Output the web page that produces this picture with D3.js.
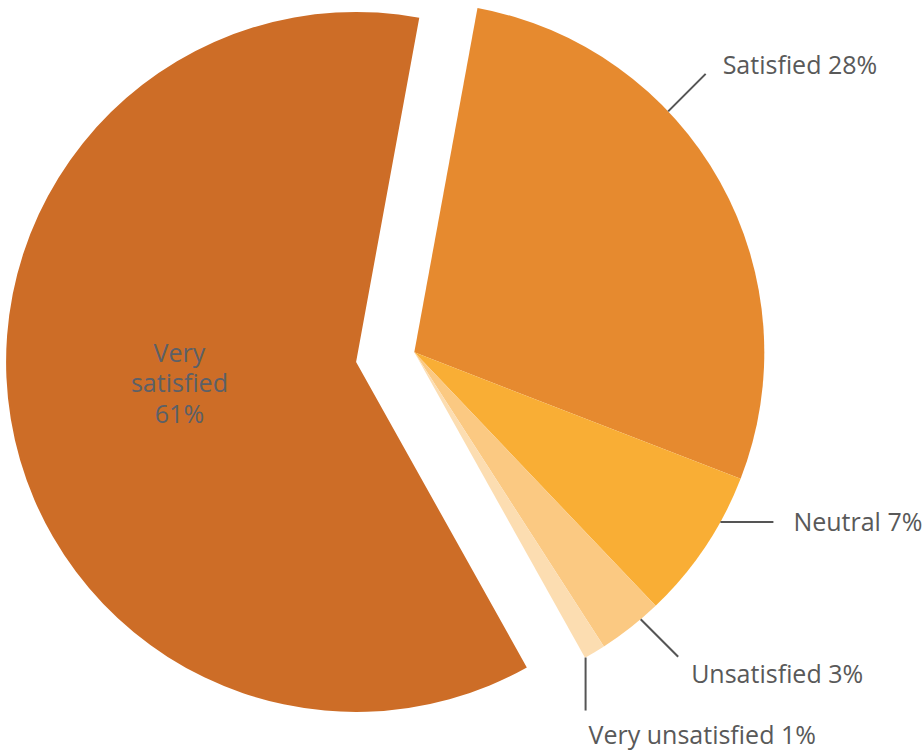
<!DOCTYPE html>
<html>
<head>
<meta charset="utf-8">
<script src="https://cdn.jsdelivr.net/npm/d3@7"></script>
<style>
  html, body { margin: 0; padding: 0; background: #ffffff; }
  svg { display: block; }
  text { font-family: "Open Sans", "Noto Sans", sans-serif; }
</style>
</head>
<body>
<svg id="chart" width="924" height="753"></svg>
<script>
// Survey answers and their shares (percent)
const categories = ["Very satisfied", "Satisfied", "Neutral", "Unsatisfied", "Very unsatisfied"];
const shares = [61, 28, 7, 3, 1];
const palette = ["#cd6d27", "#e68a2f", "#f9ae35", "#fbc982", "#fcddb1"];

// Layout
const width = 924, height = 753;
const cx = 414.3, cy = 352.3, radius = 350;
const explode = 59;                         // the leading slice is pulled out
const deg = Math.PI / 180;
const firstBoundary = 10.4 * deg;           // where "Satisfied" begins
const total = d3.sum(shares);
const start = firstBoundary - (shares[0] / total) * 2 * Math.PI;

// Outside-label layout: nudge of the anchor along the rim, connector direction, text offset
const labelNudgeDeg = [0, -14.3, -4.8, -2.1, 1.7];
const connectorDirDeg = [0, -45, 0, 45, 90];
const connectorLen = 53;
const textOffset = [[0, 0], [17, -9], [20, 0], [13, 18], [3, 25]];
const fontSize = 25;

const svg = d3.select("#chart");

const pie = d3.pie().sort(null).value(d => d)
  .startAngle(start).endAngle(start + 2 * Math.PI);
const arcs = pie(shares);

const arc = d3.arc().innerRadius(0).outerRadius(radius);

const g = svg.append("g").attr("transform", `translate(${cx},${cy})`);

const mid = d => (d.startAngle + d.endAngle) / 2;

g.selectAll("path.slice")
  .data(arcs)
  .join("path")
  .attr("class", "slice")
  .attr("d", arc)
  .attr("fill", (d, i) => palette[i])
  .attr("transform", (d, i) => {
    if (i !== 0) return null;
    const a = mid(d);
    return `translate(${explode * Math.sin(a)},${-explode * Math.cos(a)})`;
  });

// Label inside the exploded slice
const a0 = mid(arcs[0]);
const inX = explode * Math.sin(a0) + radius * 0.5 * Math.sin(a0) - 4;
const inY = -explode * Math.cos(a0) - radius * 0.5 * Math.cos(a0) - 7;
const inside = g.append("text")
  .attr("text-anchor", "middle")
  .attr("font-size", fontSize)
  .attr("fill", "#5b6067");
const insideLines = ["Very", "satisfied", shares[0] + "%"];
insideLines.forEach((t, k) => {
  inside.append("tspan")
    .attr("x", inX)
    .attr("y", inY + (k - 1) * 30.5)
    .attr("dy", "0.35em")
    .text(t);
});

// Outside labels with straight connectors
arcs.forEach((d, i) => {
  if (i === 0) return;
  const a = mid(d) + labelNudgeDeg[i] * deg;
  const x0 = radius * Math.sin(a), y0 = -radius * Math.cos(a);
  const dir = connectorDirDeg[i] * deg;
  const x1 = x0 + connectorLen * Math.cos(dir), y1 = y0 + connectorLen * Math.sin(dir);
  g.append("line")
    .attr("x1", x0).attr("y1", y0)
    .attr("x2", x1).attr("y2", y1)
    .attr("stroke", "#555555")
    .attr("stroke-width", 2);
  g.append("text")
    .attr("x", x1 + textOffset[i][0])
    .attr("y", y1 + textOffset[i][1])
    .attr("dy", "0.35em")
    .attr("font-size", fontSize)
    .attr("fill", "#595959")
    .text(`${categories[i]} ${shares[i]}%`);
});
</script>
</body>
</html>
